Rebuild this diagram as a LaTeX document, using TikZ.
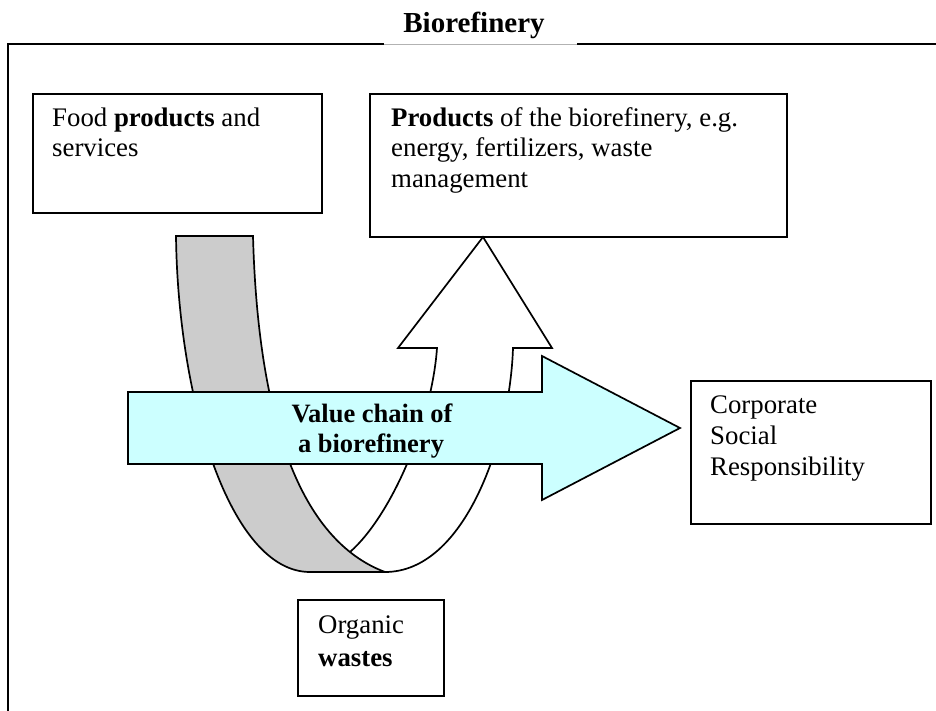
\documentclass[tikz,border=0pt]{standalone}
\usepackage{fontspec}
\setmainfont{Liberation Serif}
\definecolor{grayband}{HTML}{CCCCCC}
\definecolor{cyanfill}{HTML}{CCFFFF}
\begin{document}
\begin{tikzpicture}[x=1pt,y=-1pt,
  txt/.style={inner sep=0pt, font=\fontsize{26.8}{30}\selectfont, anchor=base west},
  bx/.style={draw, line width=1.8pt, inner sep=0pt, anchor=north west},
  shp/.style={draw, line width=1.7pt, line join=miter},
  frameline/.style={draw, line width=2.6pt}]
\useasboundingbox (0,0) rectangle (936,711);

% frame and title
\draw[frameline] (8,711) -- (8,44) -- (384,44);
\draw[frameline] (577,44) -- (936,44);
\draw[gray!60, line width=0.8pt] (384,44) -- (577,44);
\node[inner sep=0pt, anchor=base, font=\fontsize{29}{33}\selectfont\bfseries] (title) at (474,33) {Biorefinery};

% white upward part of the U-turn
\fill[white] (350,552) -- (385,572) .. controls (465,572) and (510,440) .. (513,348) -- (552,348) -- (483,237) -- (398,348) -- (437,348) .. controls (432,420) and (392,515) .. (350,552) -- cycle;
\draw[shp] (385,572) .. controls (465,572) and (510,440) .. (513,348) -- (552,348) -- (483,237) -- (398,348) -- (437,348) .. controls (432,420) and (392,515) .. (350,552);

% gray downward band
\filldraw[shp, fill=grayband] (253,236) -- (176,236) .. controls (178,400) and (230,572) .. (310,572) -- (385,572) .. controls (300,540) and (258,420) .. (253,236) -- cycle;

% horizontal value-chain arrow
\filldraw[shp, fill=cyanfill] (128,392) -- (542,392) -- (542,356) -- (680,428) -- (542,500) -- (542,464) -- (128,464) -- cycle;
\node[inner sep=0pt, anchor=base, font=\fontsize{26.5}{30}\selectfont\bfseries] (vc1) at (372,422) {Value chain of};
\node[inner sep=0pt, anchor=base, font=\fontsize{26.5}{30}\selectfont\bfseries] (vc2) at (371,452) {a biorefinery};

% boxes
\node[bx, minimum width=289pt, minimum height=119pt] (food) at (32,93) {};
\node[txt] (food1) at (52,127) {Food \textbf{products} and};
\node[txt] (food2) at (52,157) {services};

\node[bx, minimum width=417pt, minimum height=143pt] (prod) at (369,93) {};
\node[txt] (prod1) at (391,127) {\textbf{Products} of the biorefinery, e.g.};
\node[txt] (prod2) at (391,157) {energy, fertilizers, waste};
\node[txt] (prod3) at (391,188) {management};

\node[bx, minimum width=240pt, minimum height=143pt] (csr) at (690,380) {};
\node[txt] (csr1) at (710,413) {Corporate};
\node[txt] (csr2) at (710,444) {Social};
\node[txt] (csr3) at (710,475) {Responsibility};

\node[bx, minimum width=146pt, minimum height=96pt] (waste) at (297,599) {};
\node[txt] (waste1) at (318,633) {Organic};
\node[txt] (waste2) at (318,666) {\textbf{wastes}};
\end{tikzpicture}
\end{document}
